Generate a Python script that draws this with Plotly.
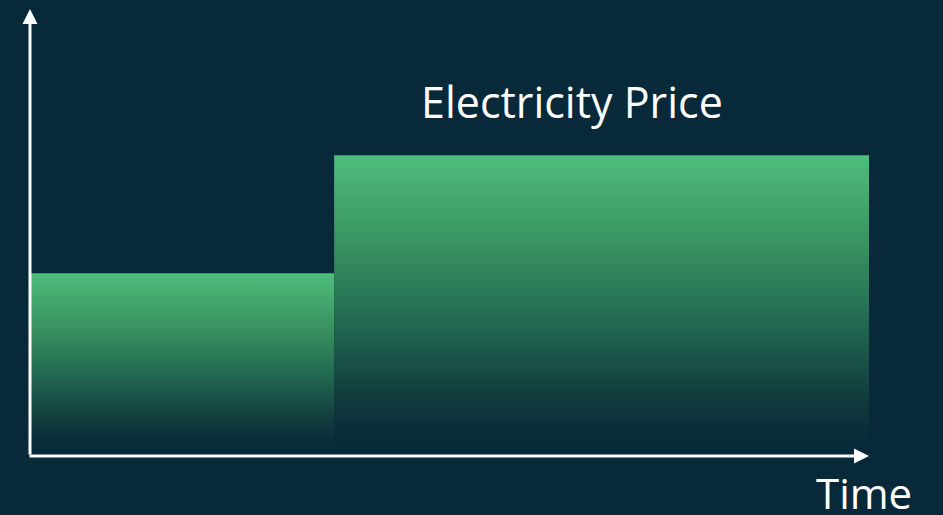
import plotly.graph_objects as go

# Data
time_edges = [0, 8.7, 24]          # hours: off-peak then peak period
price_levels = [40.9, 67.3]        # relative electricity price per period
chart_title = "Electricity Price"
x_label = "Time"

BG = "#08293a"
GREEN = "#4fbd7c"

colorscale = [
    [0.0, BG],
    [0.08, "#0a2c3a"],
    [0.22, "#13403e"],
    [0.45, "#226a52"],
    [0.7, "#38925f"],
    [1.0, GREEN],
]

fig = go.Figure()
for i, p in enumerate(price_levels):
    x0, x1 = time_edges[i], time_edges[i + 1]
    fig.add_trace(go.Scatter(
        x=[x0, x1, x1, x0, x0],
        y=[0, 0, p, p, 0],
        mode="lines",
        fill="toself",
        line=dict(width=0),
        fillgradient=dict(type="vertical", colorscale=colorscale),
        hoverinfo="skip",
        showlegend=False,
    ))

fig.update_layout(
    width=943, height=515,
    margin=dict(l=30, r=74, t=9, b=59),
    paper_bgcolor=BG, plot_bgcolor=BG,
    xaxis=dict(range=[time_edges[0], time_edges[-1]], visible=False, fixedrange=True),
    yaxis=dict(range=[0, 100], visible=False, fixedrange=True),
    font=dict(family="Open Sans, Noto Sans, sans-serif", color="white"),
)

# Axis arrows
fig.add_annotation(x=0, y=1, xref="paper", yref="paper", ax=0, ay=447,
                   showarrow=True, arrowhead=2, arrowwidth=3, arrowsize=1,
                   arrowcolor="white", text="", standoff=0)
fig.add_annotation(x=1, y=0, xref="paper", yref="paper", ax=-841, ay=0,
                   showarrow=True, arrowhead=2, arrowwidth=3, arrowsize=1,
                   arrowcolor="white", text="", standoff=0)

# Labels
fig.add_annotation(x=0.646, y=0.793, xref="paper", yref="paper", text=chart_title,
                   showarrow=False, font=dict(size=43, color="white"),
                   xanchor="center", yanchor="middle")
fig.add_annotation(x=0.9946, y=-0.0817, xref="paper", yref="paper", text=x_label,
                   showarrow=False, font=dict(size=42, color="white"),
                   xanchor="center", yanchor="middle")

fig.write_html("out.html", config={"displayModeBar": False},
               post_script="document.body.style.margin='0';document.body.style.overflow='hidden';")
